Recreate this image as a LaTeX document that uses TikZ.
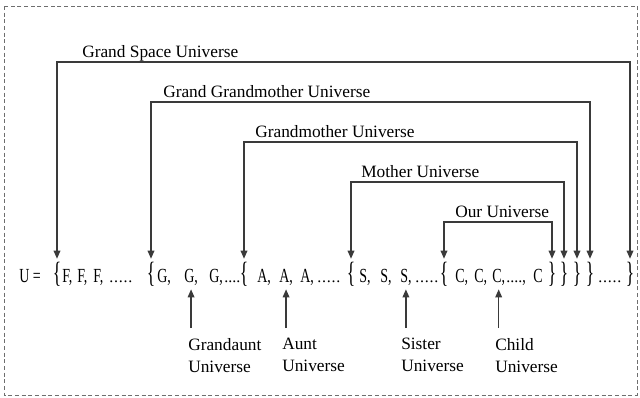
\documentclass[tikz,border=0pt]{standalone}
\usepackage{fontspec}
\setmainfont{Liberation Serif}
\usepackage{graphicx}
\usetikzlibrary{arrows.meta}
\definecolor{LineGray}{HTML}{3A3A3A}
\definecolor{FrameGray}{HTML}{6E6E6E}
\newcommand{\nar}[1]{\scalebox{0.7}[1]{#1}}
\newcommand{\lbrc}{\scalebox{0.6}[1]{\{}}
\newcommand{\rbrc}{\scalebox{0.6}[1]{\}}}
\newcommand{\fivedots}{{\fontsize{12}{14}\selectfont.\kern.6pt.\kern.6pt.\kern.6pt.\kern.6pt.}}
\newcommand{\fourdots}{{\fontsize{12}{14}\selectfont....}}

\begin{document}
\begin{tikzpicture}[
    x=0.75pt,y=-0.75pt,
    title/.style={anchor=base west,inner sep=0pt,font=\fontsize{13}{16}\selectfont},
    lbl/.style={anchor=north west,align=left,inner xsep=0pt,inner ysep=7.5pt,
      font=\fontsize{13}{16.5}\selectfont},
    letter/.style={anchor=base west,inner xsep=0pt,inner ysep=3pt,font=\fontsize{15}{17}\selectfont},
    brace/.style={anchor=base,inner sep=2pt,font=\fontsize{22}{24}\selectfont},
    arrow/.style={-{Triangle[width=5pt,length=6pt]},line width=0.9pt,color=LineGray},
    pair/.style={{Triangle[width=5pt,length=6pt]}-{Triangle[width=5pt,length=6pt]},
      line width=0.9pt,color=LineGray},
    frame/.style={draw=FrameGray,line width=0.6pt,dash pattern=on 3pt off 2pt}
  ]
    \useasboundingbox (0,0) rectangle (640,397);
    \draw[frame] (4,6) rectangle (637,395);

    % the set row
    \node[letter] (U) at (19,282) {\nar{U =}};
    \foreach \n/\x in {GS/57,GG/151,GM/244,M/351,O/444}
      \node[brace] (o\n) at (\x,282) {\lbrc};
    \foreach \n/\x in {O/552,M/564,GM/577,GG/590,GS/630}
      \node[brace] (c\n) at (\x,282) {\rbrc};
    \foreach \l/\xa/\xb/\xc in {F/62/77/93,G/157/184/209,A/257/279/300,S/359/380/400,C/455/474/492}{
      \node[letter] (\l1) at (\xa,282) {\nar{\l,}};
      \node[letter] (\l2) at (\xb,282) {\nar{\l,}};
      \node[letter] (\l3) at (\xc,282) {\nar{\l,}};
    }
    \node[letter] (dF) at (109,282) {\fivedots};
    \node[letter] (dG) at (224,282) {\fourdots};
    \node[letter] (dA) at (317,282) {\fivedots};
    \node[letter] (dS) at (415,282) {\fivedots};
    \node[letter] (dC) at (506,282) {\fourdots\nar{,}};
    \node[letter] (C4) at (533,282) {\nar{C}};
    \node[letter] (dE) at (598,282) {\fivedots};

    % universes above
    \node[title] (tGS) at (82,57) {Grand Space Universe};
    \node[title] (tGG) at (163,97) {Grand Grandmother Universe};
    \node[title] (tGM) at (255,137) {Grandmother Universe};
    \node[title] (tM) at (361,177) {Mother Universe};
    \node[title] (tO) at (455,217) {Our Universe};
    \foreach \n/\y in {GS/62,GG/102,GM/142,M/182,O/222}{
      \coordinate (h\n) at (0,\y);
      \draw[pair] (o\n.north) -- (o\n.north |- h\n) -- (c\n.north |- h\n) -- (c\n.north);
    }

    % universes below
    \node[lbl] (bGA) at (188,328) {Grandaunt\\Universe};
    \node[lbl] (bA) at (282,328) {Aunt\\Universe};
    \node[lbl] (bS) at (401,328) {Sister\\Universe};
    \node[lbl] (bC) at (495,328) {Child\\Universe};
    \draw[arrow] (G2.south |- bGA.north) -- (G2.south);
    \draw[arrow] (A2.south |- bA.north) -- (A2.south);
    \draw[arrow] (S3.south |- bS.north) -- (S3.south);
    \draw[arrow] (C3.south |- bC.north) -- (C3.south);
\end{tikzpicture}
\end{document}
